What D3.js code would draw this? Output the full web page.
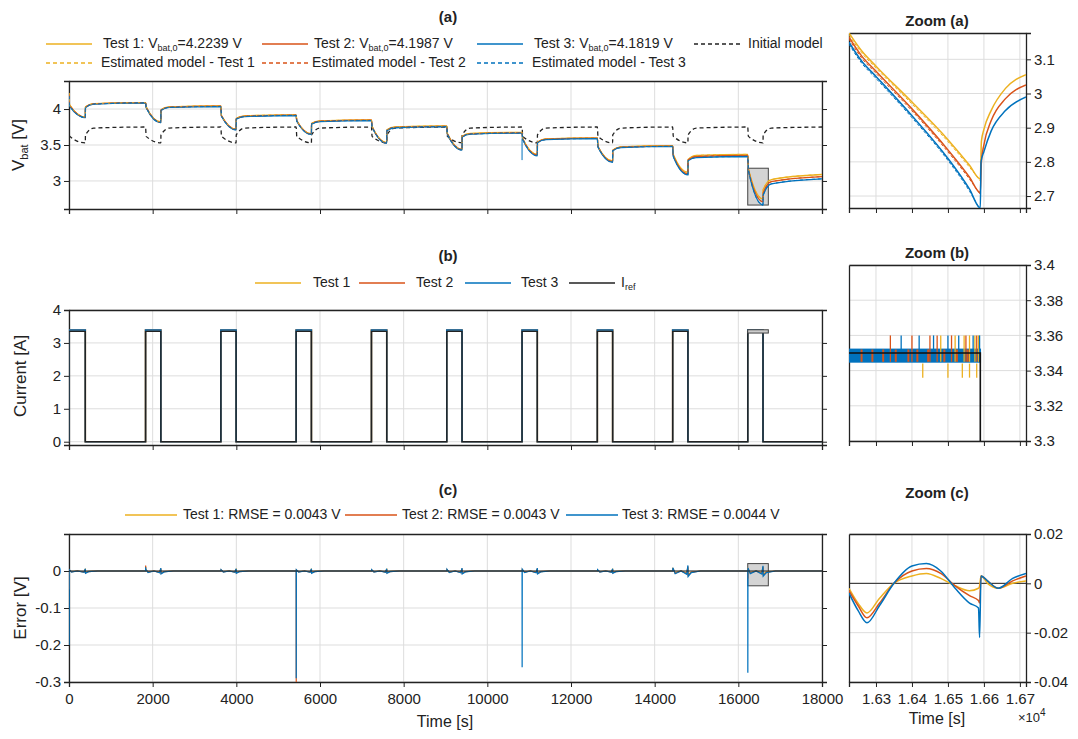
<!DOCTYPE html>
<html><head><meta charset="utf-8">
<script src="https://cdn.jsdelivr.net/npm/d3@7"></script>
<style>body{margin:0;background:#fff}text{font-family:"Liberation Sans Narrow","Liberation Sans",Arial,sans-serif;fill:#222}</style>
</head><body><svg id="c" width="1078" height="739"></svg>
<script>
// ---------- DATA ----------
const pulseStart = [0,1830,3630,5430,7230,9030,10830,12630,14430,16225];
const pulseEnd   = [390,2195,3995,5795,7595,9395,11195,12995,14795,16590];
const tEndAll = 18000;
const V0 = [4.2239,4.1987,4.1819];
const vDrop = [[4.06,4.03,3.91,3.84,3.76,3.66,3.59,3.48,3.37,3.17],
               [4.05,4.025,3.905,3.835,3.755,3.655,3.585,3.475,3.355,3.16],
               [4.04,4.02,3.90,3.83,3.75,3.65,3.58,3.47,3.34,3.15]];
const vEnd  = [[3.89,3.82,3.72,3.655,3.535,3.44,3.37,3.28,3.12,2.75],
               [3.885,3.815,3.715,3.65,3.53,3.435,3.36,3.27,3.10,2.71],
               [3.88,3.81,3.71,3.645,3.525,3.43,3.35,3.26,3.085,2.665]];
const vJump = [[4.03,3.99,3.87,3.80,3.71,3.62,3.54,3.43,3.30,2.88],
               [4.025,3.985,3.865,3.795,3.705,3.615,3.535,3.425,3.29,2.83],
               [4.02,3.98,3.86,3.79,3.70,3.61,3.53,3.42,3.28,2.80]];
const vRelax= [[4.075,4.03,3.905,3.835,3.75,3.66,3.585,3.475,3.355,3.02],
               [4.072,4.026,3.90,3.83,3.745,3.655,3.58,3.47,3.34,2.99],
               [4.068,4.022,3.895,3.826,3.74,3.65,3.575,3.465,3.325,2.96]];
const vRest = [[4.09,4.045,3.92,3.85,3.765,3.675,3.60,3.49,3.37,3.09],
               [4.088,4.04,3.915,3.845,3.76,3.67,3.595,3.485,3.355,3.06],
               [4.085,4.035,3.91,3.84,3.755,3.665,3.59,3.48,3.34,3.03]];
const initV0 = 3.73;
const initDrop = [3.62,3.62,3.62,3.62,3.62,3.62,3.62,3.62,3.62,3.62];
const initEnd  = [3.53,3.53,3.53,3.53,3.53,3.53,3.53,3.53,3.53,3.53];
const initJump = [3.64,3.64,3.64,3.64,3.64,3.64,3.64,3.64,3.64,3.64];
const initRelax= [3.735,3.735,3.735,3.735,3.735,3.735,3.735,3.735,3.735,3.735];
const initRest = [3.75,3.75,3.75,3.75,3.75,3.75,3.75,3.75,3.75,3.75];
const Iref = 3.35;
const errSpike = [[-0.01,0.012,0,0,0,0,0,0,0,-0.01],
                  [-0.05,0.015,0,-0.30,0,0,0,0,0,-0.02],
                  [-0.20,0.01,0,-0.29,0,0,-0.26,0,0,-0.275]];
const errWig = [0.006,0.008,0.006,0.006,0.006,0.008,0.008,0.006,0.015,0.014];
const testColors = ["#EDB120","#D95319","#0072BD"];
const zA = [
 [[16225,3.177],[16260,3.125],[16300,3.08],[16400,2.975],[16500,2.865],[16560,2.79],[16590,2.75],[16593,2.86],[16600,2.895],[16620,2.95],[16660,3.015],[16717,3.055]],
 [[16225,3.165],[16260,3.11],[16300,3.065],[16400,2.955],[16500,2.835],[16560,2.755],[16590,2.71],[16593,2.80],[16600,2.85],[16620,2.92],[16660,2.985],[16717,3.025]],
 [[16225,3.15],[16260,3.095],[16300,3.05],[16400,2.935],[16500,2.81],[16560,2.72],[16590,2.665],[16592,2.80],[16600,2.83],[16620,2.89],[16660,2.95],[16717,2.99]]];
const zCt = [16225,16250,16275,16310,16350,16400,16440,16480,16520,16560,16585,16588,16592,16610,16640,16680,16717];
const zC = [
 [-0.002,-0.008,-0.012,-0.006,0,0.003,0.004,0.002,-0.001,-0.003,-0.002,-0.001,0.003,0.0,-0.002,0.0,0.001],
 [-0.003,-0.009,-0.014,-0.008,0,0.005,0.006,0.004,-0.001,-0.005,-0.007,-0.008,0.003,0.001,-0.002,0.001,0.003],
 [-0.004,-0.011,-0.016,-0.009,0,0.007,0.008,0.005,-0.002,-0.008,-0.010,-0.022,0.003,0.001,-0.002,0.002,0.004]];
const zBspikesUp = [[16480,16520,16545,16560,16575,16585],[16340,16400,16450,16470,16510,16550,16580],[16370,16420,16460,16500,16530,16570,16588]];
const zBspikesDn = [16430,16500,16540,16560,16580];
const legA1 = ["Test 1: V","Test 2: V","Test 3: V"], legA1v=["=4.2239 V","=4.1987 V","=4.1819 V"];
const legA2 = ["Estimated model - Test 1","Estimated model - Test 2","Estimated model - Test 3"];
const legC = ["Test 1: RMSE = 0.0043 V","Test 2: RMSE = 0.0043 V","Test 3: RMSE = 0.0044 V"];

// ---------- BUILD ----------
const svg = d3.select("#c");
const X = d3.scaleLinear().domain([0,18000]).range([69,822]);
const ZX = d3.scaleLinear().domain([16225,16717]).range([849,1026]);
function frame(x,y,xt,yt,right,xlab,fmtY){
  const [x0,x1]=x.range(), [y1,y0]=y.range();
  const g=svg.append("g");
  xt.forEach(t=>g.append("line").attr("x1",x(t)).attr("x2",x(t)).attr("y1",y0).attr("y2",y1).attr("stroke","#ddd"));
  yt.forEach(t=>g.append("line").attr("x1",x0).attr("x2",x1).attr("y1",y(t)).attr("y2",y(t)).attr("stroke","#ddd"));
  const ax = right? d3.axisRight(y).tickValues(yt).tickSize(5).tickFormat(fmtY) : d3.axisLeft(y).tickValues(yt).tickSize(5).tickFormat(fmtY);
  const a=g.append("g").attr("transform",`translate(${right?x1:x0},0)`).call(ax);
  const b=g.append("g").attr("transform",`translate(${right?x0:x1},0)`).call(right?d3.axisLeft(y).tickValues(yt).tickSize(0).tickFormat(""):d3.axisRight(y).tickValues(yt).tickSize(5).tickFormat(""));
  const c=g.append("g").attr("transform",`translate(0,${y1})`).call(d3.axisBottom(x).tickValues(xt).tickSize(5).tickFormat(xlab||""));
  const d=g.append("g").attr("transform",`translate(0,${y0})`).call(d3.axisTop(x).tickValues(xt).tickSize(0).tickFormat(""));
  [a,b,c,d].forEach(s=>{s.selectAll("path,line").attr("stroke","#222");s.select(".domain").attr("stroke-width",1.3);s.selectAll("text").style("font-size","15px").attr("fill","#222")});
  c.selectAll("text").attr("dy","0.9em");
  return g;
}
function clip(id,x,y){svg.append("clipPath").attr("id",id).append("rect").attr("x",x.range()[0]).attr("y",y.range()[1]).attr("width",x.range()[1]-x.range()[0]).attr("height",y.range()[0]-y.range()[1]);}
function txt(x,y,s,o={}){return svg.append("text").attr("x",x).attr("y",y).attr("text-anchor",o.a||"start").style("font-size",(o.s||14)+"px").style("font-weight",o.b?"bold":null).text(s);}

// panel a
const YA = d3.scaleLinear().domain([2.61,4.39]).range([209,81]);
const xt=d3.range(0,18001,2000);
frame(X,YA,xt,[3,3.5,4],false,null,d=>d);
clip("ca",X,YA);
function voltPts(i){
  const p=[[0,V0[i]],[5,V0[i]-0.1]];
  for(let k=0;k<10;k++){
    const s=pulseStart[k],e=pulseEnd[k];
    if(k>0)p.push([s,vRest[i][k-1]]);
    p.push([s+15,vDrop[i][k]],[e,vEnd[i][k]],[e+3,vJump[i][k]],[e+200,vRelax[i][k]]);
  }
  p.push([tEndAll,vRest[i][9]]);
  return p;
}
function initPts(){
  const p=[[0,initV0]];
  for(let k=0;k<10;k++){const s=pulseStart[k],e=pulseEnd[k];
    if(k>0)p.push([s,initRest[k-1]]);
    p.push([s+15,initDrop[k]],[e,initEnd[k]],[e+3,initJump[k]],[e+200,initRelax[k]]);}
  p.push([tEndAll,initRest[9]]);return p;
}
const lineA=d3.line().x(d=>X(d[0])).y(d=>YA(d[1])).curve(d3.curveMonotoneX);
const gA=svg.append("g").attr("clip-path","url(#ca)");
gA.append("rect").attr("x",X(16225)).attr("width",X(16717)-X(16225)).attr("y",YA(3.177)).attr("height",YA(2.665)-YA(3.177)).attr("fill","#d4d4d4").attr("stroke","#444");
gA.append("path").attr("d",lineA(initPts())).attr("fill","none").attr("stroke","#222").attr("stroke-width",1.3).attr("stroke-dasharray","4,3");
[0,1,2].forEach(i=>gA.append("path").attr("d",lineA(voltPts(i))).attr("fill","none").attr("stroke",testColors[i]).attr("stroke-width",1.3));
[0,1,2].forEach(i=>gA.append("path").attr("d",lineA(voltPts(i))).attr("fill","none").attr("stroke",testColors[i]).attr("stroke-width",1).attr("stroke-dasharray","3,3"));
gA.append("line").attr("x1",X(10830)).attr("x2",X(10830)).attr("y1",YA(3.59)).attr("y2",YA(3.29)).attr("stroke",testColors[2]);
txt(448,22,"(a)",{a:"middle",s:15,b:true});
const lxA=[46,262,477], ltA=[103,314,534];
[0,1,2].forEach(i=>{
  svg.append("line").attr("x1",lxA[i]).attr("x2",lxA[i]+46).attr("y1",44).attr("y2",44).attr("stroke",testColors[i]).attr("stroke-width",1.5);
  const t=txt(ltA[i],48,legA1[i]);t.append("tspan").attr("dy",3).style("font-size","9px").text("bat,0");t.append("tspan").attr("dy",-3).text(legA1v[i]);
  svg.append("line").attr("x1",lxA[i]).attr("x2",lxA[i]+46).attr("y1",63).attr("y2",63).attr("stroke",testColors[i]).attr("stroke-width",1.5).attr("stroke-dasharray","4,3");
  txt(ltA[i]-2,67,legA2[i]);
});
svg.append("line").attr("x1",694).attr("x2",740).attr("y1",44).attr("y2",44).attr("stroke","#222").attr("stroke-width",1.5).attr("stroke-dasharray","4,3");
txt(748,48,"Initial model");
const ylA=txt(0,0,"V",{a:"middle",s:17}).attr("transform","translate(24,145) rotate(-90)");
ylA.append("tspan").attr("dy",4).style("font-size","11px").text("bat");ylA.append("tspan").attr("dy",-4).text(" [V]");

// panel b
const YB=d3.scaleLinear().domain([-0.1,4]).range([445,310]);
frame(X,YB,xt,[0,1,2,3,4],false,null,d=>d);
clip("cb",X,YB);
function curPts(lv){const p=[[0,0]];pulseStart.forEach((s,k)=>{p.push([s,lv],[pulseEnd[k],lv],[pulseEnd[k],0]);if(k<9)p.push([pulseStart[k+1],0]);});p.push([tEndAll,0]);return p;}
const lineBl=d3.line().x(d=>X(d[0])).y(d=>YB(d[1]));
const gB=svg.append("g").attr("clip-path","url(#cb)");
[0,1,2].forEach(i=>gB.append("path").attr("d",lineBl(curPts(Iref+0.04))).attr("fill","none").attr("stroke",testColors[i]).attr("stroke-width",1.5));
gB.append("path").attr("d",lineBl(curPts(Iref))).attr("fill","none").attr("stroke","#222").attr("stroke-width",1.3);
gB.append("rect").attr("x",X(16225)).attr("width",X(16717)-X(16225)).attr("y",YB(3.4)).attr("height",YB(3.3)-YB(3.4)).attr("fill","#ccc").attr("stroke","#444");
txt(448,261,"(b)",{a:"middle",s:15,b:true});
const lB=[[255,313,"Test 1"],[359,416,"Test 2"],[465,521,"Test 3"]];
lB.forEach((l,i)=>{svg.append("line").attr("x1",l[0]).attr("x2",l[0]+46).attr("y1",283).attr("y2",283).attr("stroke",testColors[i]).attr("stroke-width",1.5);txt(l[1],287,l[2]);});
svg.append("line").attr("x1",569).attr("x2",615).attr("y1",283).attr("y2",283).attr("stroke","#222").attr("stroke-width",1.5);
const ir=txt(621,287,"I");ir.append("tspan").attr("dy",3).style("font-size","9px").text("ref");
txt(0,0,"Current [A]",{a:"middle",s:17}).attr("transform","translate(26,376) rotate(-90)");

// panel c
const YC=d3.scaleLinear().domain([-0.3,0.1]).range([682,534]);
frame(X,YC,xt,[-0.3,-0.2,-0.1,0],false,d=>d,d=>d);
clip("cc",X,YC);
function errPts(i){
  const p=[[0,0]];
  pulseStart.forEach((s,k)=>{const e=pulseEnd[k],w=errWig[k]*(0.6+0.2*i);
    p.push([s,0],[s+2,errSpike[i][k]],[s+5,w*0.6],[s+60,-w*0.5],[s+200,0],[e-30,-w*0.6],[e,w],[e+5,-w],[e+80,-w*0.3],[e+300,0]);});
  p.push([tEndAll,0]);return p;
}
const lineC=d3.line().x(d=>X(d[0])).y(d=>YC(d[1]));
const gC=svg.append("g").attr("clip-path","url(#cc)");
gC.append("rect").attr("x",X(16225)).attr("width",X(16717)-X(16225)).attr("y",YC(0.02)).attr("height",YC(-0.04)-YC(0.02)).attr("fill","#d4d4d4").attr("stroke","#444");
[0,1,2].forEach(i=>gC.append("path").attr("d",lineC(errPts(i))).attr("fill","none").attr("stroke",testColors[i]).attr("stroke-width",1.2));
gC.append("line").attr("x1",X(0)).attr("x2",X(18000)).attr("y1",YC(0)).attr("y2",YC(0)).attr("stroke","#222").attr("stroke-width",1);
txt(448,495,"(c)",{a:"middle",s:15,b:true});
const lC=[[125,183],[345,402],[566,622]];
lC.forEach((l,i)=>{svg.append("line").attr("x1",l[0]).attr("x2",l[0]+52).attr("y1",515).attr("y2",515).attr("stroke",testColors[i]).attr("stroke-width",1.5);txt(l[1],519,legC[i]);});
txt(0,0,"Error [V]",{a:"middle",s:17}).attr("transform","translate(26,608) rotate(-90)");
txt(445,727,"Time [s]",{a:"middle",s:16});

// zoom panels
const zxt=[16300,16400,16500,16600,16700];
const ZYA=d3.scaleLinear().domain([2.665,3.177]).range([208,33]);
frame(ZX,ZYA,zxt,[2.7,2.8,2.9,3,3.1],true,null,d=>d);
clip("za",ZX,ZYA);
const lz=d3.line().x(d=>ZX(d[0])).y(d=>ZYA(d[1])).curve(d3.curveMonotoneX);
const gZA=svg.append("g").attr("clip-path","url(#za)");
[0,1,2].forEach(i=>{gZA.append("path").attr("d",lz(zA[i])).attr("fill","none").attr("stroke",testColors[i]).attr("stroke-width",1.5);
  gZA.append("path").attr("d",lz(zA[i].slice(0,7))).attr("fill","none").attr("stroke",testColors[i]).attr("stroke-width",1).attr("stroke-dasharray","3,2").attr("transform","translate(0,2)");});
txt(937,26,"Zoom (a)",{a:"middle",s:15,b:true});

const ZYB=d3.scaleLinear().domain([3.3,3.4]).range([441,265]);
frame(ZX,ZYB,zxt,[3.3,3.32,3.34,3.36,3.38,3.4],true,null,d=>d);
clip("zb",ZX,ZYB);
const gZB=svg.append("g").attr("clip-path","url(#zb)");
gZB.append("rect").attr("x",ZX(16225)).attr("width",ZX(16592)-ZX(16225)).attr("y",ZYB(3.3525)).attr("height",ZYB(3.3445)-ZYB(3.3525)).attr("fill",testColors[2]);
[0,1,2].forEach(i=>zBspikesUp[i].forEach(t=>gZB.append("line").attr("x1",ZX(t)).attr("x2",ZX(t)).attr("y1",ZYB(3.36)).attr("y2",ZYB(3.345)).attr("stroke",testColors[i]).attr("stroke-width",1.3)));
zBspikesDn.forEach(t=>gZB.append("line").attr("x1",ZX(t)).attr("x2",ZX(t)).attr("y1",ZYB(3.344)).attr("y2",ZYB(3.336)).attr("stroke",testColors[0]).attr("stroke-width",1.3));
[16260,16290,16320,16355,16390,16415,16445,16490,16525,16555].forEach(t=>gZB.append("line").attr("x1",ZX(t)).attr("x2",ZX(t)).attr("y1",ZYB(3.352)).attr("y2",ZYB(3.345)).attr("stroke",testColors[1]).attr("stroke-width",2));
gZB.append("path").attr("d",d3.line().x(d=>ZX(d[0])).y(d=>ZYB(d[1]))([[16225,Iref],[16590,Iref],[16590,3.2]])).attr("fill","none").attr("stroke","#111").attr("stroke-width",1.6);
txt(937,258,"Zoom (b)",{a:"middle",s:15,b:true});

const ZYC=d3.scaleLinear().domain([-0.04,0.02]).range([682,534]);
frame(ZX,ZYC,zxt,[-0.04,-0.02,0,0.02],true,d=>(d/1e4).toFixed(2),d=>d);
clip("zc",ZX,ZYC);
const gZC=svg.append("g").attr("clip-path","url(#zc)");
gZC.append("line").attr("x1",849).attr("x2",1026).attr("y1",ZYC(0)).attr("y2",ZYC(0)).attr("stroke","#222");
const lzc=d3.line().x((d,j)=>ZX(zCt[j])).y(d=>ZYC(d)).curve(d3.curveMonotoneX);
[0,1,2].forEach(i=>gZC.append("path").attr("d",lzc(zC[i])).attr("fill","none").attr("stroke",testColors[i]).attr("stroke-width",1.5));
txt(937,498,"Zoom (c)",{a:"middle",s:15,b:true});
txt(937,724,"Time [s]",{a:"middle",s:16});
const xe=txt(1018,722,"×10",{s:13});xe.append("tspan").attr("dy",-6).style("font-size","10px").text("4");
</script></body></html>
